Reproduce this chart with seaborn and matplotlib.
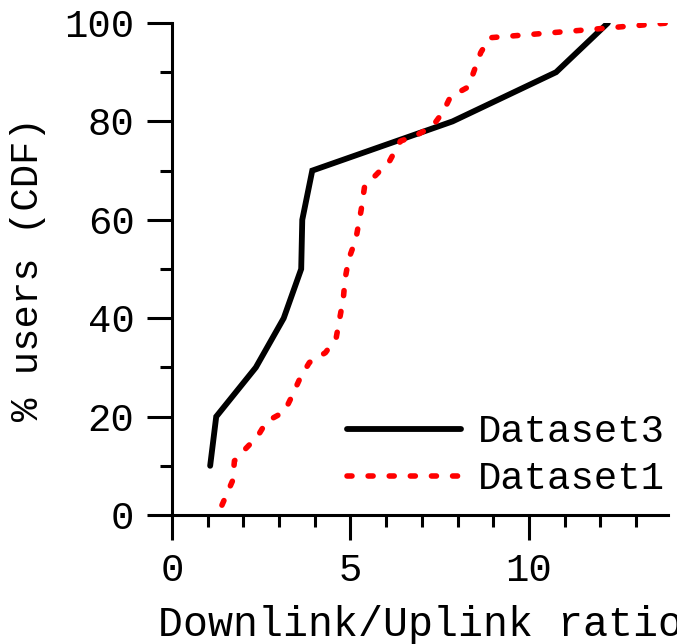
import matplotlib
matplotlib.use("Agg")
import matplotlib.pyplot as plt
from matplotlib.ticker import MultipleLocator
import seaborn as sns
import pandas as pd

# CDF of downlink/uplink ratio
ds3_ratio = [1.07, 1.24, 2.35, 3.13, 3.62, 3.65, 3.93, 7.86, 10.76, 12.21]
ds3_pct = [10, 20, 30, 40, 50, 60, 70, 80, 90, 100]

ds1_ratio = [1.40, 1.70, 1.75, 2.0, 2.4, 2.65, 3.15, 3.35, 3.6, 3.85, 4.3, 4.6, 4.7,
             4.8, 4.85, 4.95, 5.15, 5.3, 5.4, 5.7, 6.1, 6.4, 6.8, 7.3, 7.6, 7.8,
             8.3, 8.5, 8.65, 8.9, 10.1, 11.6, 12.7, 13.9]
ds1_pct = [2, 7, 11, 13, 16, 19, 21, 24, 28, 31, 33, 36, 40,
           44, 48, 52, 56, 62, 67, 69, 72, 76, 77, 79, 82, 85,
           87, 91, 94, 97, 97.7, 98.6, 99.3, 100]

df3 = pd.DataFrame({"ratio": ds3_ratio, "pct": ds3_pct})
df1 = pd.DataFrame({"ratio": ds1_ratio, "pct": ds1_pct})

sns.set_style("ticks")
plt.rcParams["font.family"] = ["Liberation Mono", "DejaVu Sans Mono"]
plt.rcParams["font.size"] = 28

fig = plt.figure(figsize=(6.77, 6.44), dpi=100)
ax = fig.add_axes([0.254, 0.2003, 0.733, 0.7640])

sns.lineplot(data=df3, x="ratio", y="pct", ax=ax, color="black", linewidth=4.2,
             estimator=None, sort=False, label="Dataset3",
             solid_capstyle="round", solid_joinstyle="miter")
sns.lineplot(data=df1, x="ratio", y="pct", ax=ax, color="#ff0000", linewidth=4.0,
             estimator=None, sort=False, label="Dataset1",
             linestyle=(0, (0.9, 2.9)), dash_capstyle="round")

ax.set_xlim(0, 13.9)
ax.set_ylim(0, 100)
ax.xaxis.set_major_locator(MultipleLocator(5))
ax.xaxis.set_minor_locator(MultipleLocator(1))
ax.yaxis.set_major_locator(MultipleLocator(20))
ax.yaxis.set_minor_locator(MultipleLocator(10))

for side in ["top", "right"]:
    ax.spines[side].set_visible(False)
for side in ["left", "bottom"]:
    ax.spines[side].set_linewidth(2.2)
    ax.spines[side].set_color("black")

ax.tick_params(which="major", length=18, width=2.2, labelsize=28, pad=9,
               color="black", labelcolor="black")
ax.tick_params(which="minor", length=8.5, width=2.2, color="black")
ax.set_xlabel("Downlink/Uplink ratio", fontsize=30, labelpad=12, color="black")
ax.set_ylabel("% users (CDF)", fontsize=28, labelpad=13, color="black")

leg = ax.legend(loc="upper left", bbox_to_anchor=(0.352, 0.205), frameon=False,
                fontsize=28, handlelength=2.95, handletextpad=0.42, labelspacing=0.29,
                borderpad=0, borderaxespad=0)
for t in leg.get_texts():
    t.set_color("black")

plt.savefig("out.png", dpi=100)
